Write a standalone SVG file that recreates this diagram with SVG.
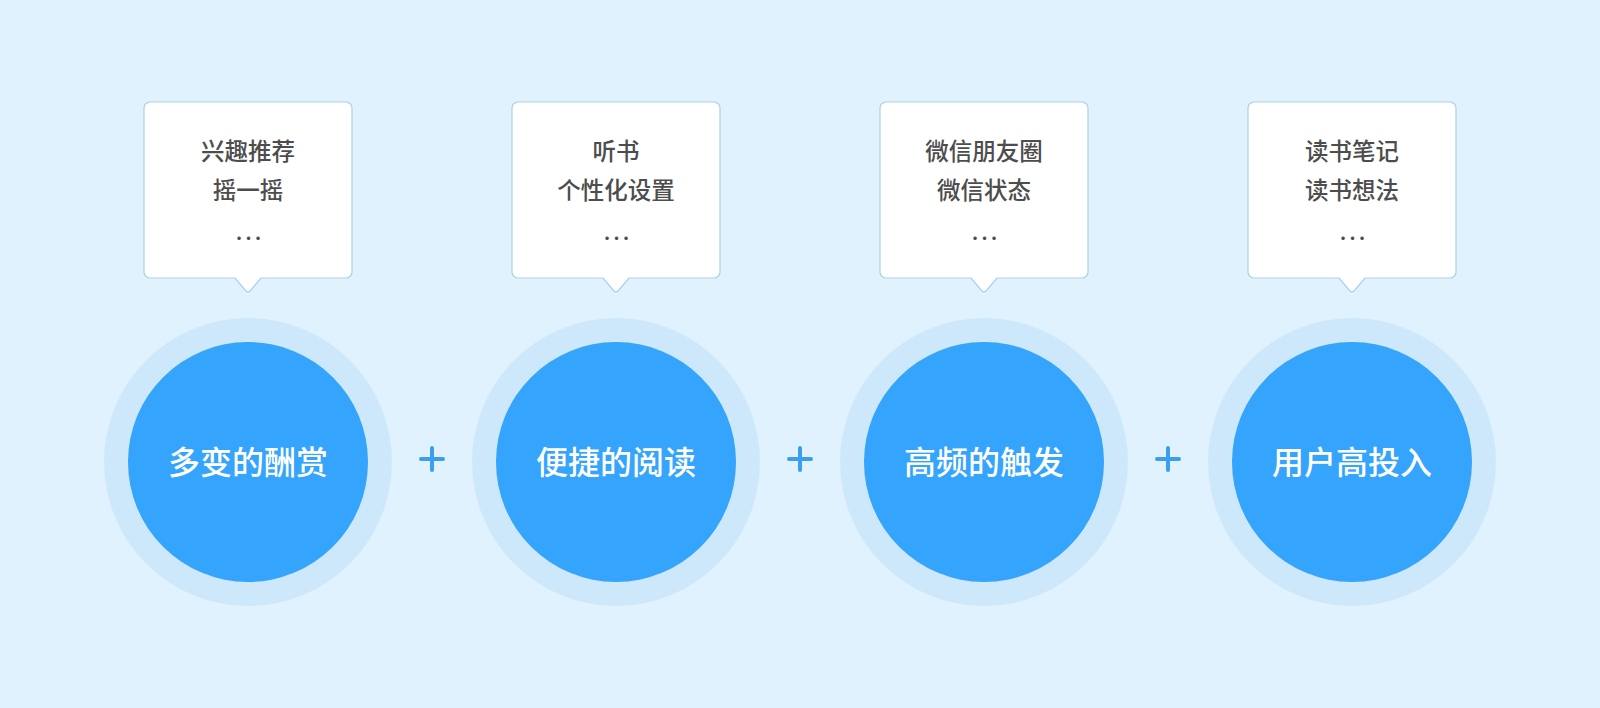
<svg xmlns="http://www.w3.org/2000/svg" width="1600" height="708" viewBox="0 0 1600 708">
<style>
.bg{fill:#e0f2fd}
.halo{fill:#cee8fb}
.core{fill:#34a4fc}
.tip{fill:#ffffff;stroke:#a9d3e3;stroke-width:1.2}
.t{font-family:"Noto Sans CJK SC","Noto Sans",sans-serif;font-size:23.5px;font-weight:500;fill:#4d4d4d;text-anchor:middle}
.d{font-family:"Noto Sans CJK SC","Noto Sans",sans-serif;font-size:22px;font-weight:500;fill:#4d4d4d;text-anchor:middle;letter-spacing:3px}
.c{font-family:"Noto Sans CJK SC","Noto Sans",sans-serif;font-size:32px;font-weight:500;fill:#ffffff;text-anchor:middle}
.plus{stroke:#3a9fec;stroke-width:4;stroke-linecap:round}
</style>
<defs>
<path id="bubble" d="M-98,0 H98 a6,6 0 0 1 6,6 V170 a6,6 0 0 1 -6,6 H13 L2,189 a3,3 0 0 1 -4,0 L-13,176 H-98 a6,6 0 0 1 -6,-6 V6 a6,6 0 0 1 6,-6 Z"/>
</defs>
<rect class="bg" x="0" y="0" width="1600" height="708"/>
<g id="node1">
<use href="#bubble" class="tip" x="248" y="102"/>
<text class="t" x="248" y="160">兴趣推荐</text>
<text class="t" x="248" y="199">摇一摇</text>
<text class="d" x="250" y="240">...</text>
<circle class="halo" cx="248" cy="462" r="144"/>
<circle class="core" cx="248" cy="462" r="120"/>
<text class="c" x="248" y="474">多变的酬赏</text>
</g>
<g id="node2">
<use href="#bubble" class="tip" x="616" y="102"/>
<text class="t" x="616" y="160">听书</text>
<text class="t" x="616" y="199">个性化设置</text>
<text class="d" x="618" y="240">...</text>
<circle class="halo" cx="616" cy="462" r="144"/>
<circle class="core" cx="616" cy="462" r="120"/>
<text class="c" x="616" y="474">便捷的阅读</text>
</g>
<g id="node3">
<use href="#bubble" class="tip" x="984" y="102"/>
<text class="t" x="984" y="160">微信朋友圈</text>
<text class="t" x="984" y="199">微信状态</text>
<text class="d" x="986" y="240">...</text>
<circle class="halo" cx="984" cy="462" r="144"/>
<circle class="core" cx="984" cy="462" r="120"/>
<text class="c" x="984" y="474">高频的触发</text>
</g>
<g id="node4">
<use href="#bubble" class="tip" x="1352" y="102"/>
<text class="t" x="1352" y="160">读书笔记</text>
<text class="t" x="1352" y="199">读书想法</text>
<text class="d" x="1354" y="240">...</text>
<circle class="halo" cx="1352" cy="462" r="144"/>
<circle class="core" cx="1352" cy="462" r="120"/>
<text class="c" x="1352" y="474">用户高投入</text>
</g>
<g id="connectors">
<path class="plus" d="M421,459 H443 M432,448 V470"/>
<path class="plus" d="M789,459 H811 M800,448 V470"/>
<path class="plus" d="M1157,459 H1179 M1168,448 V470"/>
</g>
</svg>
